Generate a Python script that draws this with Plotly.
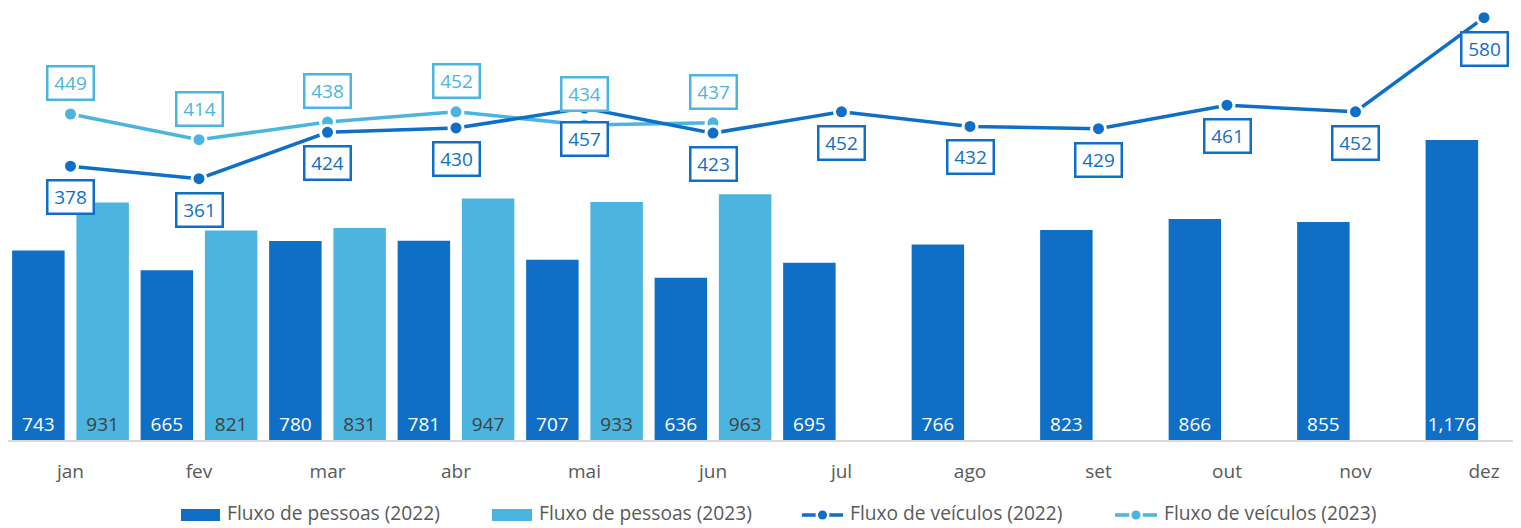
import plotly.graph_objects as go

# ---- data ----
meses = ["jan", "fev", "mar", "abr", "mai", "jun", "jul", "ago", "set", "out", "nov", "dez"]
pessoas_2022 = [743, 665, 780, 781, 707, 636, 695, 766, 823, 866, 855, 1176]
pessoas_2023 = [931, 821, 831, 947, 933, 963, None, None, None, None, None, None]
veiculos_2022 = [378, 361, 424, 430, 457, 423, 452, 432, 429, 461, 452, 580]
veiculos_2023 = [449, 414, 438, 452, 434, 437, None, None, None, None, None, None]
nomes = ["Fluxo de pessoas (2022)", "Fluxo de pessoas (2023)",
         "Fluxo de veículos (2022)", "Fluxo de veículos (2023)"]

# ---- style ----
C_DARK = "#0F6FC6"
C_LIGHT = "#4BB5E0"
FONT = "Open Sans"
OFF = 8                      # page body margin offset
W, H = 1521 - OFF, 528 - OFF
ML, MR, MT, MB = 0, 0, 0, 88

fig = go.Figure()
fig.add_trace(go.Bar(
    x=meses, y=pessoas_2022, name=nomes[0], marker=dict(color=C_DARK, line=dict(width=0)),
    texttemplate="%{y:,}", textposition="inside", insidetextanchor="start", textangle=0,
    constraintext="none", textfont=dict(family=FONT, size=19, color="white"),
))
fig.add_trace(go.Bar(
    x=meses, y=pessoas_2023, name=nomes[1], marker=dict(color=C_LIGHT, line=dict(width=0)),
    texttemplate="%{y:,}", textposition="inside", insidetextanchor="start", textangle=0,
    constraintext="none", textfont=dict(family=FONT, size=19, color="#404040"),
))
fig.add_trace(go.Scatter(
    x=meses, y=veiculos_2023, name=nomes[3], yaxis="y2", mode="lines+markers",
    line=dict(color=C_LIGHT, width=3.5),
    marker=dict(size=14, color=C_LIGHT, line=dict(color="white", width=3)),
))
fig.add_trace(go.Scatter(
    x=meses, y=veiculos_2022, name=nomes[2], yaxis="y2", mode="lines+markers",
    line=dict(color=C_DARK, width=3.5),
    marker=dict(size=14, color=C_DARK, line=dict(color="white", width=3)),
))

annotations = []
for serie, cor, shift in ((veiculos_2023, C_LIGHT, 31), (veiculos_2022, C_DARK, -31)):
    for m, v in zip(meses, serie):
        if v is None:
            continue
        annotations.append(dict(
            x=m, y=v, xref="x", yref="y2", text=str(v), showarrow=False, yshift=shift,
            font=dict(family=FONT, size=19, color=cor),
            bordercolor=cor, borderwidth=2.5, borderpad=3, bgcolor="white",
            width=38, height=25,
        ))

# ---- manual legend (reference pixel positions converted to paper coords) ----
pw = W - ML - MR
ph = H - MT - MB


def px_x(px):
    return (px - OFF - ML) / pw


def px_y(py):
    return (H - MB - (py - OFF)) / ph


shapes = []
sym_y = 515
txt_y = 513
leg_items = [
    (181, 220, 225, C_DARK, "bar", nomes[0]),
    (492, 532, 537, C_LIGHT, "bar", nomes[1]),
    (802, 843, 848, C_DARK, "line", nomes[2]),
    (1115, 1157, 1162, C_LIGHT, "line", nomes[3]),
]
for x0, x1, xt, cor, kind, label in leg_items:
    if kind == "bar":
        shapes.append(dict(type="rect", xref="paper", yref="paper",
                           x0=px_x(x0), x1=px_x(x1), y0=px_y(sym_y + 6), y1=px_y(sym_y - 6),
                           fillcolor=cor, line=dict(width=0)))
    else:
        shapes.append(dict(type="line", xref="paper", yref="paper",
                           x0=px_x(x0), x1=px_x(x1), y0=px_y(sym_y), y1=px_y(sym_y),
                           line=dict(color=cor, width=3.5)))
        cx = (x0 + x1) / 2
        shapes.append(dict(type="circle", xref="paper", yref="paper",
                           x0=px_x(cx - 7), x1=px_x(cx + 7), y0=px_y(sym_y + 7), y1=px_y(sym_y - 7),
                           fillcolor="white", line=dict(width=0)))
        shapes.append(dict(type="circle", xref="paper", yref="paper",
                           x0=px_x(cx - 4.5), x1=px_x(cx + 4.5), y0=px_y(sym_y + 4.5), y1=px_y(sym_y - 4.5),
                           fillcolor=cor, line=dict(width=0)))
    annotations.append(dict(
        x=px_x(xt), y=px_y(txt_y), xref="paper", yref="paper", text=label, showarrow=False,
        xanchor="left", yanchor="middle", font=dict(family=FONT, size=19.2, color="#595959"),
    ))

cat_w = 128.5                       # px per month
x0_center = 70.5 - OFF - ML         # px of the "jan" center inside the plot area
x_start = -x0_center / cat_w
base_ref = 440                      # reference baseline (px)
zero2_ref = 444                     # reference px where secondary axis value 0 would fall
y2_min = (zero2_ref - base_ref) / 0.735

fig.update_layout(
    width=W, height=H,
    margin=dict(l=ML, r=MR, t=MT, b=MB),
    paper_bgcolor="white", plot_bgcolor="white",
    font=dict(family=FONT, color="#595959"),
    barmode="group", bargap=0, bargroupgap=0.183,
    showlegend=False,
    uniformtext=dict(minsize=19, mode="show"),
    xaxis=dict(
        type="category", range=[x_start, x_start + pw / cat_w],
        showline=True, linecolor="#d9d9d9", linewidth=2,
        showgrid=False, ticks="", tickfont=dict(family=FONT, size=19, color="#595959"),
        ticklabelstandoff=13,
    ),
    yaxis=dict(range=[0, ph / 0.2551], visible=False, showgrid=False, zeroline=False),
    yaxis2=dict(range=[y2_min, y2_min + ph / 0.735], overlaying="y", side="right",
                visible=False, showgrid=False, zeroline=False),
    annotations=annotations,
    shapes=shapes,
)

fig.write_html("out.html")
